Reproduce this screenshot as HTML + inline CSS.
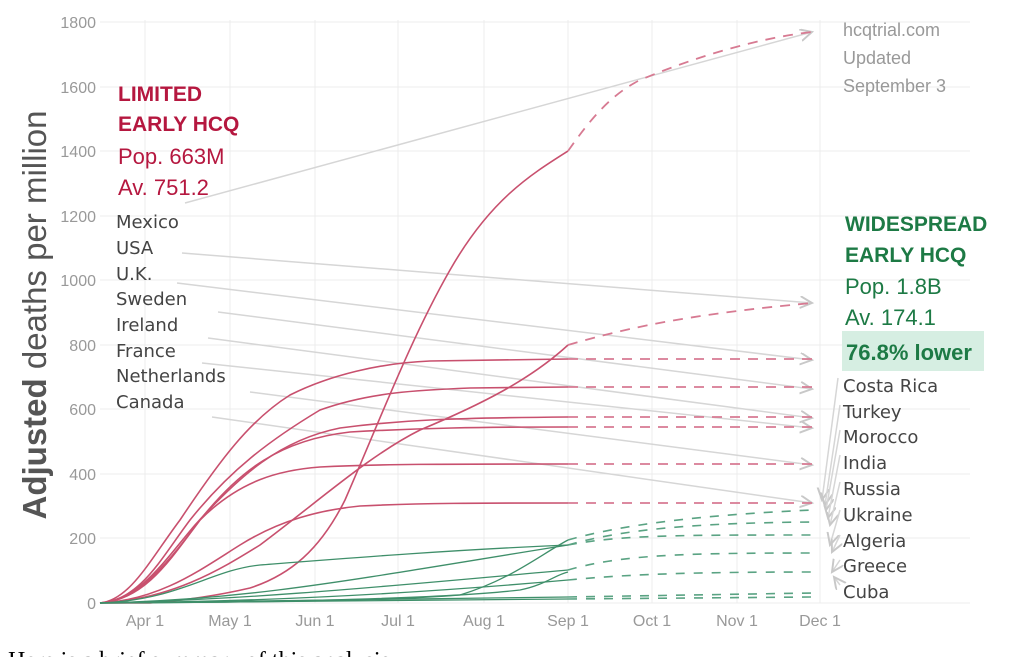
<!DOCTYPE html>
<html><head><meta charset="utf-8"><style>
body{margin:0;background:#fff;width:1023px;height:657px;overflow:hidden}
.dv text{font-family:"DejaVu Sans",sans-serif}
</style></head><body>
<svg width="1023" height="657" viewBox="0 0 1023 657" xmlns="http://www.w3.org/2000/svg" font-family="Liberation Sans, sans-serif">
<defs><marker id="ar" markerWidth="10" markerHeight="10" refX="8" refY="4" orient="auto"><path d="M0,0 L8,4 L0,8" fill="none" stroke="#c8c8c8" stroke-width="1.3"/></marker></defs>
<g stroke="#ececec" stroke-width="1">
<line x1="100" y1="603" x2="970" y2="603"/><line x1="100" y1="538" x2="970" y2="538"/><line x1="100" y1="474" x2="970" y2="474"/><line x1="100" y1="409" x2="970" y2="409"/><line x1="100" y1="345" x2="970" y2="345"/><line x1="100" y1="280" x2="970" y2="280"/><line x1="100" y1="216" x2="970" y2="216"/><line x1="100" y1="151" x2="970" y2="151"/><line x1="100" y1="87" x2="970" y2="87"/><line x1="100" y1="22" x2="970" y2="22"/>
<line x1="145" y1="20" x2="145" y2="603"/><line x1="230" y1="20" x2="230" y2="603"/><line x1="315" y1="20" x2="315" y2="603"/><line x1="398" y1="20" x2="398" y2="603"/><line x1="484" y1="20" x2="484" y2="603"/><line x1="568" y1="20" x2="568" y2="603"/><line x1="652" y1="20" x2="652" y2="603"/><line x1="737" y1="20" x2="737" y2="603"/><line x1="820" y1="20" x2="820" y2="603"/>
</g>
<g fill="#999" font-size="16" text-anchor="end">
<text x="96" y="609">0</text><text x="96" y="544">200</text><text x="96" y="480">400</text><text x="96" y="415">600</text><text x="96" y="351">800</text><text x="96" y="286">1000</text><text x="96" y="222">1200</text><text x="96" y="157">1400</text><text x="96" y="93">1600</text><text x="96" y="28">1800</text>
</g>
<g fill="#999" font-size="16" text-anchor="middle">
<text x="145" y="626">Apr 1</text><text x="230" y="626">May 1</text><text x="315" y="626">Jun 1</text><text x="398" y="626">Jul 1</text><text x="484" y="626">Aug 1</text><text x="568" y="626">Sep 1</text><text x="652" y="626">Oct 1</text><text x="737" y="626">Nov 1</text><text x="820" y="626">Dec 1</text>
</g>
<text transform="translate(46,315) rotate(-90)" text-anchor="middle" font-size="33" fill="#555"><tspan font-weight="bold">Adjusted</tspan> deaths per million</text>
<g stroke="#d6d6d6" stroke-width="1.5" fill="none" marker-end="url(#ar)">
<path d="M185,203 L812,32"/>
<path d="M182,253 L812,303"/>
<path d="M177,283 L812,360"/>
<path d="M218,312 L812,389"/>
<path d="M208,338 L812,418"/>
<path d="M202,363 L812,428"/>
<path d="M250,392 L812,465"/>
<path d="M212,417 L812,503"/>
<path d="M838,378 L822,500"/><path d="M840,405 L825,505"/><path d="M840,430 L826,510"/><path d="M840,455 L828,518"/><path d="M840,482 L830,525"/><path d="M840,510 L830,545"/><path d="M840,535 L832,552"/><path d="M840,560 L832,572"/><path d="M840,585 L834,577"/>
</g>
<g stroke="#c8506e" stroke-width="1.6" fill="none">
<path d="M100,603 L150,603 C190,600 220,595 250,588 C290,575 320,550 345,500 C380,420 410,340 450,270 C490,200 530,175 568,151"/>
<path d="M100,603 C170,600 220,570 260,545 C320,500 370,455 420,430 C480,405 530,380 568,345"/>
<path d="M100,603 C130,600 150,560 180,520 C220,460 250,420 290,395 C330,375 380,363 430,361 L568,359"/>
<path d="M100,603 C140,600 160,560 190,520 C230,470 270,440 320,410 C370,392 420,390 470,388 L568,387"/>
<path d="M100,603 C140,600 165,560 195,525 C240,475 280,440 340,428 C400,420 450,418 568,417"/>
<path d="M100,603 C145,600 170,560 200,520 C240,470 280,440 350,432 C420,428 480,427 568,427"/>
<path d="M100,603 C140,600 170,560 200,520 C240,480 280,470 320,467 C380,464 440,464 568,464"/>
<path d="M100,603 C160,600 200,570 240,545 C280,520 320,510 360,506 C420,503 480,503 568,503"/>
</g>
<g stroke="#d77a92" stroke-width="1.8" fill="none" stroke-dasharray="10,8">
<path d="M568,151 C590,120 610,95 640,80 C700,55 760,38 812,32"/>
<path d="M568,345 C620,330 680,315 812,303"/>
<path d="M568,359 L812,359"/><path d="M568,387 L812,387"/><path d="M568,417 L812,417"/><path d="M568,427 L812,427"/><path d="M568,464 L812,464"/><path d="M568,503 L812,503"/>
</g>
<g stroke="#3f8f6a" stroke-width="1.3" fill="none">
<path d="M100,603 C180,600 210,570 260,565 C350,558 450,550 568,545"/>
<path d="M100,603 C250,600 350,580 568,545"/>
<path d="M100,603 C300,602 400,600 460,595 C510,580 540,555 568,540"/>
<path d="M100,603 C250,600 400,585 568,570"/>
<path d="M100,603 C250,602 400,595 568,580"/>
<path d="M100,603 C300,602 450,598 520,590 C545,585 555,575 568,572"/>
<path d="M100,603 L568,597"/><path d="M100,603 L568,599"/>
</g>
<g stroke="#5aa383" stroke-width="1.6" fill="none" stroke-dasharray="9,9">
<path d="M568,540 C620,525 700,515 812,510"/>
<path d="M568,545 C620,530 690,523 812,522"/>
<path d="M568,545 C620,535 680,535 812,535"/>
<path d="M568,570 C620,555 680,553 812,553"/>
<path d="M568,580 C620,575 680,572 812,572"/>
<path d="M568,597 L812,593"/><path d="M568,599 L812,597"/>
</g>
<text x="118" y="101" font-size="21" font-weight="bold" fill="#b5173f">LIMITED</text>
<text x="118" y="131" font-size="21" font-weight="bold" fill="#b5173f">EARLY HCQ</text>
<text x="118" y="164" font-size="22" fill="#b5173f">Pop. 663M</text>
<text x="118" y="195" font-size="22" fill="#b5173f">Av. 751.2</text>
<g class="dv" font-size="18" fill="#444">
<text x="116" y="228">Mexico</text><text x="116" y="254">USA</text><text x="116" y="280">U.K.</text><text x="116" y="305">Sweden</text><text x="116" y="331">Ireland</text><text x="116" y="357">France</text><text x="116" y="382">Netherlands</text><text x="116" y="408">Canada</text>
</g>
<g font-size="18" fill="#999"><text x="843" y="36">hcqtrial.com</text><text x="843" y="64">Updated</text><text x="843" y="92">September 3</text></g>
<text x="845" y="231" font-size="21" font-weight="bold" fill="#1d7a45">WIDESPREAD</text>
<text x="845" y="262" font-size="21" font-weight="bold" fill="#1d7a45">EARLY HCQ</text>
<text x="845" y="294" font-size="22" fill="#1d7a45">Pop. 1.8B</text>
<text x="845" y="325" font-size="22" fill="#1d7a45">Av. 174.1</text>
<rect x="842" y="331" width="142" height="40" fill="#d6eee2"/>
<text x="846" y="360" font-size="22" font-weight="bold" fill="#1d7a45">76.8% lower</text>
<g class="dv" font-size="18" fill="#444">
<text x="843" y="392">Costa Rica</text><text x="843" y="418">Turkey</text><text x="843" y="443">Morocco</text><text x="843" y="469">India</text><text x="843" y="495">Russia</text><text x="843" y="521">Ukraine</text><text x="843" y="547">Algeria</text><text x="843" y="572">Greece</text><text x="843" y="598">Cuba</text>
</g>
<text x="8" y="668" font-family="Liberation Serif, serif" font-size="24" fill="#000">Here is a brief summary of this analysis</text>
</svg>
</body></html>
